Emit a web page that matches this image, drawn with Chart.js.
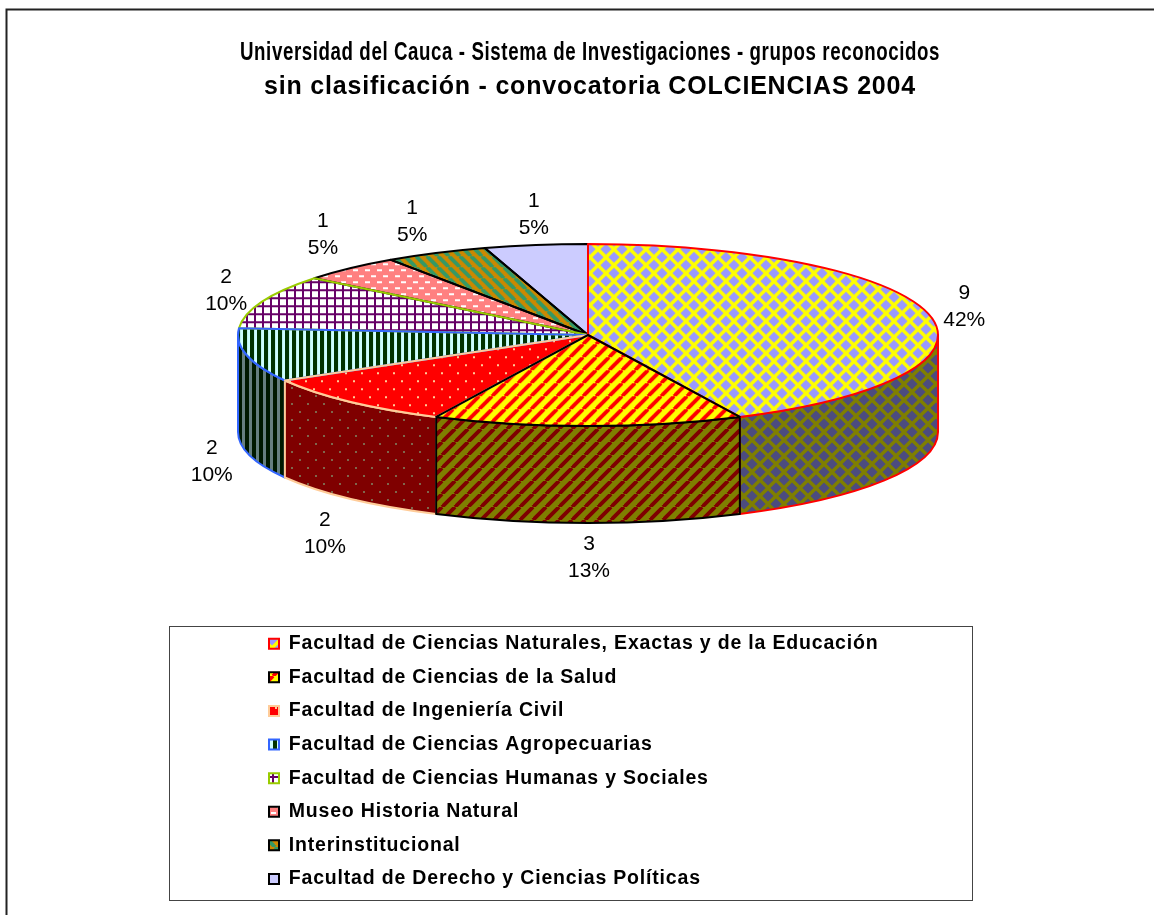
<!DOCTYPE html>
<html>
<head>
<meta charset="utf-8">
<title>Universidad del Cauca</title>
<script src="https://cdn.jsdelivr.net/npm/chart.js@4"></script>
<style>
html,body{margin:0;padding:0;background:#fff;overflow:hidden}
canvas{display:block}
</style>
</head>
<body>
<canvas id="c" width="1154" height="915"></canvas>
<script>
const categories = [
  "Facultad de Ciencias Naturales, Exactas y de la Educación",
  "Facultad de Ciencias de la Salud",
  "Facultad de Ingeniería Civil",
  "Facultad de Ciencias Agropecuarias",
  "Facultad de Ciencias Humanas y Sociales",
  "Museo Historia Natural",
  "Interinstitucional",
  "Facultad de Derecho y Ciencias Políticas"
];
const groupCounts = [9, 3, 2, 2, 2, 1, 1, 1];
const percentLabels = ["42%", "13%", "10%", "10%", "10%", "5%", "5%", "5%"];
const titleLines = [
  "Universidad del Cauca - Sistema de Investigaciones - grupos reconocidos",
  "sin clasificación - convocatoria COLCIENCIAS 2004"
];

/* layout of the flattened pie, in page pixels */
const PIE = {x: 588, y: 335, ry: 91, depth: 97};
const labelNudge = [[35,-8],[1,35],[-25,35],[-35,9],[-36,-11],[-27,-33.5],[-24,-31.5],[-2,-30.5]];
const borderColors = ["#FF0000","#000000","#FFCC99","#3366FF","#99CC00","#000000","#000000","#000000"];

function half(hex){
  const n = parseInt(hex.slice(1),16);
  const p = v => Math.floor(v/2).toString(16).padStart(2,"0");
  return "#"+p(n>>16&255)+p(n>>8&255)+p(n&255);
}
function tile(w,h,paint){
  const c=document.createElement("canvas");c.width=w;c.height=h;
  paint(c.getContext("2d"),w,h);return c;
}
function diamonds(fg,bg){return tile(16,16,(g,w,h)=>{
  g.fillStyle=bg;g.fillRect(0,0,w,h);g.fillStyle=fg;
  [[0,0],[16,0],[0,16],[16,16],[8,8]].forEach(([x,y])=>{
    g.beginPath();g.moveTo(x-5.6,y);g.lineTo(x,y-5.6);g.lineTo(x+5.6,y);g.lineTo(x,y+5.6);g.closePath();g.fill();});
});}
function diagonal(fg,bg,size,frac,back){return tile(size,size,(g,w)=>{
  g.fillStyle=bg;g.fillRect(0,0,w,w);g.strokeStyle=fg;g.lineWidth=frac*w/Math.SQRT2;
  for(let k=-1;k<=3;k++){g.beginPath();
    if(back){g.moveTo((k-1)*w,0);g.lineTo(k*w,w);}else{g.moveTo(k*w,0);g.lineTo((k-1)*w,w);}
    g.stroke();}
});}
function confetti(fg,bg){return tile(16,16,(g,w,h)=>{
  g.fillStyle=bg;g.fillRect(0,0,w,h);g.fillStyle=fg;g.fillRect(3,3,2,2);g.fillRect(11,11,2,2);
});}
function vertical(fg,bg){return tile(7,4,(g,w,h)=>{
  g.fillStyle=bg;g.fillRect(0,0,w,h);g.fillStyle=fg;g.fillRect(0,0,4,h);
});}
function plaid(fg,bg){return tile(8,8,(g,w,h)=>{
  g.fillStyle=bg;g.fillRect(0,0,w,h);g.fillStyle=fg;g.fillRect(0,0,2,h);g.fillRect(0,0,w,2);
});}
function dashes(fg,bg){return tile(12,12,(g,w,h)=>{
  g.fillStyle=bg;g.fillRect(0,0,w,h);g.fillStyle=fg;g.fillRect(1,2,5,2);g.fillRect(7,8,5,2);
});}
function solid(fg,bg){return tile(4,4,(g,w,h)=>{g.fillStyle=bg;g.fillRect(0,0,w,h);});}

const painters = [
  c=>diamonds(c("#9999FF"),c("#FFFF00")),
  c=>diagonal(c("#FF0000"),c("#FFFF00"),13,0.42,false),
  c=>confetti(c("#FFCC99"),c("#FF0000")),
  c=>vertical(c("#003300"),c("#CCFFFF")),
  c=>plaid(c("#660066"),c("#FFFFFF")),
  c=>dashes(c("#FFFFFF"),c("#FF8080")),
  c=>diagonal(c("#339966"),c("#CC8800"),11,0.5,true),
  c=>solid(c("#CCCCFF"),c("#CCCCFF"))
];
const ctx0 = document.getElementById("c").getContext("2d");
const flatPatterns = painters.map(p=>ctx0.createPattern(p(x=>x),"repeat"));
const wallPatterns = painters.map(p=>ctx0.createPattern(p(half),"repeat"));
const topPatterns  = painters.map(p=>ctx0.createPattern(p(x=>x),"repeat"));

function spaced(box,px){
  if(box.__spaced)return;
  box.__spaced=true;
  const d=box.draw;
  box.draw=function(){
    this.ctx.letterSpacing=px;
    d.apply(this,arguments);
    this.ctx.letterSpacing="0px";
  };
}

const pie3d = {
  id:"pie3d",
  beforeDraw(chart){
    const c=chart.ctx;c.save();
    c.fillStyle="#fff";c.fillRect(0,0,chart.width,chart.height);
    c.strokeStyle="#222";c.lineWidth=2;
    c.beginPath();c.moveTo(6.5,chart.height);c.lineTo(6.5,9.5);c.lineTo(chart.width,9.5);c.stroke();
    c.strokeStyle="#444";c.lineWidth=1;c.strokeRect(169.5,626.5,803,274);
    c.restore();
  },
  afterLayout(chart){
    const lg=chart.legend;
    lg.left=269-lg.options.labels.padding;lg.right=972;
    lg.top=634-lg.options.labels.padding;lg.bottom=915;
    lg.adjustHitBoxes();
    spaced(lg,"0.82px");
    spaced(chart.titleBlock,"0.8px");
  },
  beforeDatasetsDraw(chart){
    const c=chart.ctx,arcs=chart.getDatasetMeta(0).data,RX=arcs[0].outerRadius,k=PIE.ry/RX;
    topPatterns.forEach(p=>p.setTransform(new DOMMatrix([1,0,0,1/k,0,0])));
    c.save();c.lineWidth=2;c.lineJoin="round";
    [0,3,2,1].forEach(i=>{
      const a0=Math.max(arcs[i].startAngle,0),a1=Math.min(arcs[i].endAngle,Math.PI);
      if(a1<=a0)return;
      c.beginPath();
      c.ellipse(PIE.x,PIE.y,RX,PIE.ry,0,a0,a1);
      c.ellipse(PIE.x,PIE.y+PIE.depth,RX,PIE.ry,0,a1,a0,true);
      c.closePath();
      c.fillStyle=wallPatterns[i];c.strokeStyle=borderColors[i];c.fill();c.stroke();
    });
    c.restore();
    c.save();
    c.translate(PIE.x,PIE.y);c.scale(1,k);c.translate(-arcs[0].x,-arcs[0].y);
  },
  afterDatasetsDraw(chart){
    const c=chart.ctx,arcs=chart.getDatasetMeta(0).data,RX=arcs[0].outerRadius;
    c.restore();
    c.save();c.lineWidth=2;c.lineJoin="round";
    [7,6,5,4,3,2,0,1].forEach(i=>{
      c.beginPath();c.moveTo(PIE.x,PIE.y);
      c.ellipse(PIE.x,PIE.y,RX,PIE.ry,0,arcs[i].startAngle,arcs[i].endAngle);
      c.closePath();c.strokeStyle=borderColors[i];c.stroke();
    });
    c.fillStyle="#000";c.font='21px "Liberation Sans"';c.textAlign="center";c.textBaseline="middle";
    arcs.forEach((a,i)=>{
      const m=(a.startAngle+a.endAngle)/2,s=Math.sin(m);
      const x=PIE.x+RX*Math.cos(m)+labelNudge[i][0];
      const y=PIE.y+PIE.ry*s+(s>0?PIE.depth:0)+labelNudge[i][1];
      c.fillText(String(groupCounts[i]),x,y-13.5);
      c.fillText(percentLabels[i],x,y+13.5);
    });
    c.restore();
  }
};

new Chart(ctx0,{
  type:"pie",
  data:{labels:categories,datasets:[{data:groupCounts,backgroundColor:topPatterns,borderWidth:0,hoverOffset:0}]},
  plugins:[pie3d],
  options:{
    responsive:false,animation:false,events:[],
    layout:{padding:{left:240,right:214,top:0,bottom:0}},
    plugins:{
      tooltip:{enabled:false},
      title:{display:true,text:titleLines,fullSize:false,color:"#000",
        font:{family:'"Liberation Sans"',size:25,weight:"bold",lineHeight:34/25},
        padding:{top:36,bottom:10}},
      legend:{display:true,position:"chartArea",align:"start",
        labels:{boxWidth:10,boxHeight:10,padding:14.1,color:"#000",
          font:{family:'"Liberation Sans"',size:19.5,weight:"bold"},
          generateLabels:ch=>ch.data.labels.map((t,i)=>({text:t,fillStyle:flatPatterns[i],strokeStyle:borderColors[i],lineWidth:2,hidden:false,index:i}))}}
    }
  }
});
</script>
</body>
</html>
